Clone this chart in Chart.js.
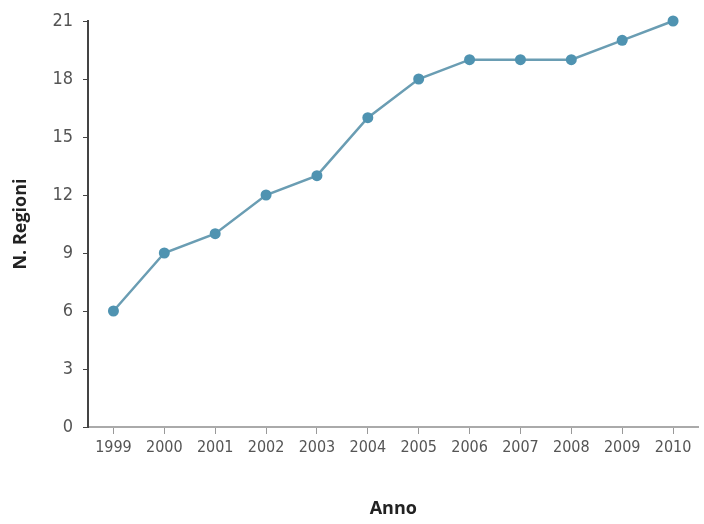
<!DOCTYPE html>
<html>
<head>
<meta charset="utf-8">
<script src="https://cdn.jsdelivr.net/npm/chart.js@4.4.1/dist/chart.umd.min.js"></script>
<style>
  html, body { margin: 0; padding: 0; background: #fff; }
  #wrap { width: 704px; height: 524px; }
</style>
</head>
<body>
<div id="wrap"><canvas id="lineChart"></canvas></div>
<script>
const years = ["1999", "2000", "2001", "2002", "2003", "2004", "2005", "2006", "2007", "2008", "2009", "2010"];
const regioni = [6, 9, 10, 12, 13, 16, 18, 19, 19, 19, 20, 21];
const yTicks = [0, 3, 6, 9, 12, 15, 18, 21];

const narrow = "'DejaVu Sans Condensed', 'Liberation Sans', sans-serif";

// Render line chart
function renderLineChart() {
  const ctx = document.getElementById("lineChart").getContext("2d");
  new Chart(ctx, {
    type: "line",
    data: {
      labels: years,
      datasets: [
        {
          data: regioni,
          borderColor: "#6a9db3",
          backgroundColor: "#4f93b1",
          borderWidth: 2.5,
          pointRadius: 5.5,
          pointBorderWidth: 0,
          tension: 0,
          clip: false,
        },
      ],
    },
    options: {
      responsive: true,
      maintainAspectRatio: false,
      animation: false,
      layout: { padding: { top: 21, right: 2, left: 6, bottom: 0 } },
      plugins: { legend: { display: false }, tooltip: { enabled: false } },
      scales: {
        x: {
          offset: true,
          grid: { display: true, drawOnChartArea: false, drawTicks: true, tickLength: 7, color: "#999", offset: false },
          border: { color: "#aaa", width: 2 },
          ticks: { color: "#555", font: { family: narrow, size: 16 }, padding: 4, maxRotation: 0, autoSkip: false },
          title: { display: true, text: "Anno", color: "#222", font: { family: "'Open Sans', sans-serif", size: 18, weight: "bold" }, padding: { top: 20 } },
          afterFit: (scale) => { scale.height = 97; },
        },
        y: {
          min: 0,
          max: 21,
          afterBuildTicks: (scale) => { scale.ticks = yTicks.map((v) => ({ value: v })); },
          grid: { display: true, drawOnChartArea: false, tickLength: 5, color: "#444" },
          border: { color: "#444", width: 2 },
          ticks: { color: "#555", font: { family: narrow, size: 18 }, padding: 10 },
          title: { display: true, text: "N. Regioni", color: "#222", font: { family: "'Open Sans', sans-serif", size: 18, weight: "bold" }, padding: { bottom: 8 } },
          afterFit: (scale) => { scale.width = 82; },
        },
      },
    },
  });
}

renderLineChart();
</script>
</body>
</html>
